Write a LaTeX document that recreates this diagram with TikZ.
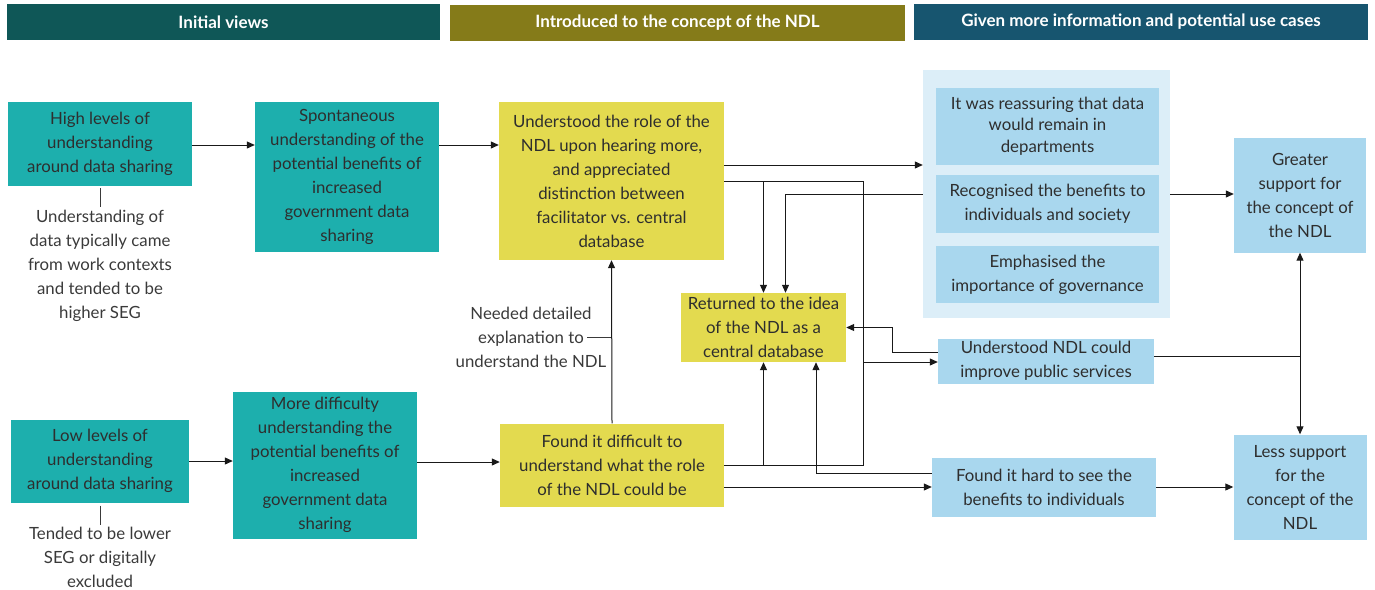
\documentclass[tikz,border=0pt]{standalone}
\usepackage{fontspec}
\setmainfont{Lato}
\usetikzlibrary{arrows.meta,positioning}
\definecolor{headteal}{HTML}{0F5757}
\definecolor{headolive}{HTML}{857B19}
\definecolor{headblue}{HTML}{17556F}
\definecolor{stageteal}{HTML}{1DAFAD}
\definecolor{stageyellow}{HTML}{E3DA4F}
\definecolor{stageblue}{HTML}{A9D7EE}
\definecolor{groupblue}{HTML}{DCEEF8}
\definecolor{textgrey}{HTML}{2E2E2E}
\definecolor{notegrey}{HTML}{3A3A3A}
\newcommand{\bodyfont}{\fontsize{16.8}{24}\selectfont}
\tikzset{
  headbar/.style={
    fill=#1,
    text=white,
    font=\fontsize{17}{20}\selectfont\bfseries,
    minimum height=36pt,
    inner sep=0pt
  },
  stagebox/.style={
    fill=#1,
    text=textgrey,
    align=center,
    inner sep=0pt,
    font=\bodyfont
  },
  notetext/.style={
    text=notegrey,
    align=center,
    inner sep=2pt,
    font=\bodyfont
  },
  notelink/.style={draw=notegrey, line width=0.9pt},
  flowline/.style={draw=black!90, line width=1pt},
  flowarrow/.style={flowline, -{Triangle[length=8pt,width=7pt]}},
  botharrow/.style={flowline, {Triangle[length=8pt,width=7pt]}-{Triangle[length=8pt,width=7pt]}}
}
\begin{document}
\begin{tikzpicture}[x=1pt, y=-1pt, node distance=11pt]
  \useasboundingbox (0,0) rectangle (1375,589);

  \node[headbar=headteal, minimum width=433pt] (headInit) at (223.5,22) {Initial views};
  \node[headbar=headolive, minimum width=455pt] (headIntro) at (677.5,22.5) {Introduced to the concept of the NDL};
  \node[headbar=headblue, minimum width=454pt] (headGiven) at (1141,22) {Given more information and potential use cases};

  \node[stagebox=stageteal, minimum width=184pt, minimum height=84pt] (high) at (100,144) {High levels of\\understanding\\around data sharing};
  \node[stagebox=stageteal, minimum width=184pt, minimum height=150pt] (spont) at (347,177) {Spontaneous\\understanding of the\\potential benefits of\\increased\\government data\\sharing};
  \node[stagebox=stageteal, minimum width=178pt, minimum height=83pt] (low) at (100,461) {Low levels of\\understanding\\around data sharing};
  \node[stagebox=stageteal, minimum width=184pt, minimum height=147pt] (more) at (325,465) {More difficulty\\understanding the\\potential benefits of\\increased\\government data\\sharing};

  \node[notetext] (noteHigh) at (100,266) {Understanding of\\data typically came\\from work contexts\\and tended to be\\higher SEG};
  \node[notetext] (noteLow) at (100,557) {Tended to be lower\\SEG or digitally\\excluded};

  \node[stagebox=stageyellow, minimum width=225pt, minimum height=158pt] (underst) at (611.5,181) {Understood the role of the\\NDL upon hearing more,\\and appreciated\\distinction between\\facilitator vs. central\\database};
  \node[stagebox=stageyellow, minimum width=224pt, minimum height=83pt] (found) at (612,465) {Found it difficult to\\understand what the role\\of the NDL could be};
  \node[stagebox=stageyellow, minimum width=165pt, minimum height=69pt] (returned) at (763.5,327.5) {Returned to the idea\\of the NDL as a\\central database};
  \node[notetext] (noteNeed) at (531,337) {Needed detailed\\explanation to\\understand the NDL};

  \node[fill=groupblue, minimum width=247pt, minimum height=248pt, inner sep=0pt] (group) at (1046.5,194) {};
  \node[stagebox=stageblue, minimum width=223pt, minimum height=77pt, font=\fontsize{16.8}{21.5}\selectfont] (reassure) at (1047.5,126) {It was reassuring that data\\would remain in\\departments};
  \node[stagebox=stageblue, minimum width=223pt, minimum height=58pt, below=10pt of reassure] (recog) {Recognised the benefits to\\individuals and society};
  \node[stagebox=stageblue, minimum width=223pt, minimum height=57pt, below=13pt of recog] (emph) {Emphasised the\\importance of governance};
  \node[stagebox=stageblue, minimum width=216pt, minimum height=45pt] (improve) at (1046,361) {Understood NDL could\\improve public services};
  \node[stagebox=stageblue, minimum width=224pt, minimum height=59pt] (hard) at (1044,487) {Found it hard to see the\\benefits to individuals};

  \node[stagebox=stageblue, minimum width=132pt, minimum height=115pt] (greater) at (1300,195) {Greater\\support for\\the concept of\\the NDL};
  \node[stagebox=stageblue, minimum width=133pt, minimum height=105pt] (less) at (1300,487) {Less support\\for the\\concept of the\\NDL};

  \coordinate (busTop) at (863,181);
  \coordinate (busBot) at (863,465);

  \draw[notelink, shorten <=2pt, shorten >=1pt] (high.south) -- (noteHigh.north);
  \draw[notelink, shorten <=3pt, shorten >=0pt] (low.south) -- (noteLow.north);
  \draw[notelink] (noteNeed.east -| found.north) -- ++(-25,0);

  \draw[flowarrow] (high.east |- 0,145) -- (spont.west |- 0,145);
  \draw[flowarrow] (spont.east |- 0,145) -- (underst.west |- 0,145);
  \draw[flowarrow] (low.east |- 0,461) -- (more.west |- 0,461);
  \draw[flowarrow] (more.east |- 0,462) -- (found.west |- 0,462);
  \draw[flowarrow] (found.north) -- (underst.south);

  \draw[flowarrow] (underst.east |- 0,165) -- (group.west |- 0,165);
  \draw[flowline] (underst.east |- busTop) -- (busTop) -- (busBot) -- (found.east |- busBot);
  \draw[flowarrow] (underst.east |- busTop) -| (returned.north);
  \draw[flowarrow] (found.east |- busBot) -| (returned.south);
  \draw[flowarrow] (busTop |- 0,362) -- (improve.west |- 0,362);
  \draw[flowarrow] (group.west) -| ([xshift=22pt]returned.north);
  \draw[flowarrow] (improve.west |- 0,352) -- ++(-45,0) |- (returned.east);
  \draw[flowarrow] (hard.west |- 0,473) -| ([xshift=52.5pt]returned.south);
  \draw[flowarrow] (found.east |- 0,487) -- (hard.west |- 0,487);

  \draw[flowarrow] (group.east) -- (group.east -| greater.west);
  \draw[flowline] (improve.east |- 0,356) -- (greater.south |- 0,356);
  \draw[botharrow] (greater.south) -- (greater.south |- less.north);
  \draw[flowarrow] (hard.east) -- (hard.east -| less.west);
\end{tikzpicture}
\end{document}
